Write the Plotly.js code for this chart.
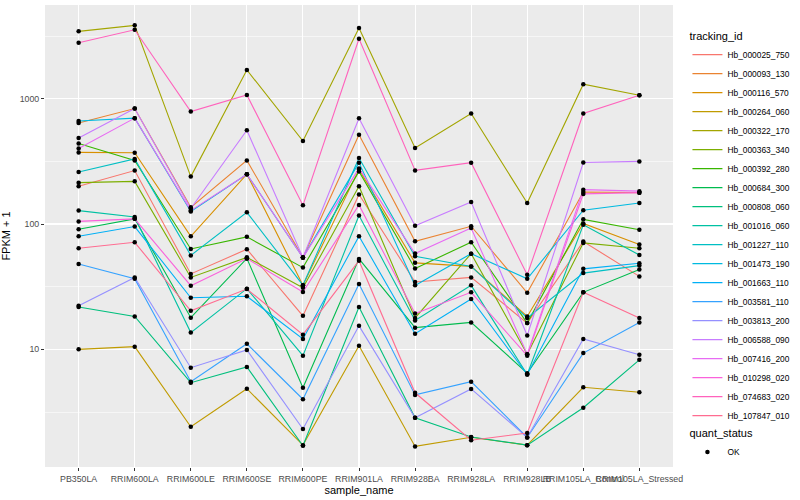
<!DOCTYPE html>
<html><head><meta charset="utf-8">
<script src="https://cdn.plot.ly/plotly-3.0.1.min.js"></script>
<style>body{margin:0;background:#fff}#chart{width:800px;height:500px}</style>
</head><body><div id="chart"></div>
<script>
const categories = ["PB350LA","RRIM600LA","RRIM600LE","RRIM600SE","RRIM600PE","RRIM901LA","RRIM928BA","RRIM928LA","RRIM928LB","RRIM105LA_Control","RRIM105LA_Stressed"];
const trackingIds = ["Hb_000025_750","Hb_000093_130","Hb_000116_570","Hb_000264_060","Hb_000322_170","Hb_000363_340","Hb_000392_280","Hb_000684_300","Hb_000808_060","Hb_001016_060","Hb_001227_110","Hb_001473_190","Hb_001663_110","Hb_003581_110","Hb_003813_200","Hb_006588_090","Hb_007416_200","Hb_010298_020","Hb_074683_020","Hb_107847_010"];
const seriesColors = ["#F8766D","#EA8331","#D89000","#C09B00","#A3A500","#7CAE00","#39B600","#00BB4E","#00BF7D","#00C1A3","#00BFC4","#00BAE0","#00B0F6","#35A2FF","#9590FF","#C77CFF","#E76BF3","#FA62DB","#FF62BC","#FF6C91"];
const quantStatus = ["OK"];

const hb_000025_750 = [200, 267, 40, 62.9, 18.5, 172, 34.5, 37.5, 16.2, 72.5, 38.2];
const hb_000093_130 = [640, 835, 136, 322, 54, 515, 72.8, 96, 28.3, 180, 178];
const hb_000116_570 = [373, 371, 79.8, 250, 32.5, 273, 49, 45.9, 18.3, 101, 68.6];
const hb_000264_060 = [10, 10.5, 2.41, 4.85, 1.72, 10.7, 1.68, 1.99, 1.72, 4.98, 4.55];
const hb_000322_170 = [3450, 3850, 239, 1698, 459, 3664, 404, 762, 147, 1306, 1067];
const hb_000363_340 = [214, 219, 37.5, 54.2, 31, 200, 17.8, 58, 9.15, 70.7, 64];
const hb_000392_280 = [440, 322, 63.3, 79, 44.9, 263, 44.2, 71.5, 16.2, 109, 90];
const hb_000684_300 = [90.8, 110, 17.9, 53.2, 4.94, 52.7, 14.9, 16.4, 6.45, 28.5, 43.3];
const hb_000808_060 = [21.8, 18.3, 5.42, 7.24, 1.7, 21.8, 2.84, 2.0, 1.72, 3.42, 8.24];
const hb_001016_060 = [128, 114, 13.6, 30.5, 8.9, 117, 17, 32.4, 6.3, 98.5, 56.5];
const hb_001227_110 = [260, 331, 56.2, 124, 32.5, 336, 55.2, 45.9, 17.8, 40.6, 46.6];
const hb_001473_190 = [664, 700, 126, 250, 54, 309, 32.4, 58, 36.6, 129, 147];
const hb_001663_110 = [80, 95.5, 25.8, 26.5, 12.1, 80, 13.3, 25.2, 6.3, 43.9, 48.7];
const hb_003581_110 = [48, 36.6, 5.52, 11.07, 4.0, 33.2, 4.33, 5.52, 1.98, 9.33, 16.4];
const hb_003813_200 = [22.3, 37.5, 7.14, 9.9, 2.31, 15.4, 2.84, 4.83, 1.98, 12.1, 9.04];
const hb_006588_090 = [485, 835, 133, 560, 54, 698, 97, 150, 12.9, 310, 316];
const hb_007416_200 = [400, 700, 128, 250, 54, 278, 58.1, 93, 9.15, 188, 183];
const hb_010298_020 = [105, 110, 32.2, 53, 28.7, 142, 19.3, 28.5, 8.9, 174, 178];
const hb_074683_020 = [2795, 3550, 791, 1072, 141, 3008, 268, 309, 39.4, 762, 1067];
const hb_107847_010 = [64, 71.5, 20.3, 30.3, 13.1, 51, 4.5, 1.88, 2.15, 28.5, 17.8];

const seriesValues = [hb_000025_750, hb_000093_130, hb_000116_570, hb_000264_060, hb_000322_170, hb_000363_340, hb_000392_280, hb_000684_300, hb_000808_060, hb_001016_060, hb_001227_110, hb_001473_190, hb_001663_110, hb_003581_110, hb_003813_200, hb_006588_090, hb_007416_200, hb_010298_020, hb_074683_020, hb_107847_010];

const traces = trackingIds.map((id, i) => ({
  type: 'scatter', mode: 'lines', x: categories, y: seriesValues[i], name: id,
  line: {color: seriesColors[i], width: 1.1}, legend: 'legend', hoverinfo: 'skip'
}));
const allX = [], allY = [];
seriesValues.forEach(vals => vals.forEach((v, j) => { allX.push(categories[j]); allY.push(v); }));
traces.push({type: 'scatter', mode: 'markers', x: allX, y: allY, name: quantStatus[0],
  marker: {color: '#000000', size: 4.5}, legend: 'legend2', hoverinfo: 'skip'});

const axisFont = {family: 'Liberation Sans, Arial, sans-serif', size: 8.8, color: '#4D4D4D'};
const layout = {
  width: 800, height: 500,
  margin: {l: 45, r: 117, t: 5, b: 33},
  paper_bgcolor: '#ffffff', plot_bgcolor: '#EBEBEB',
  font: {family: 'Liberation Sans, Arial, sans-serif', size: 9, color: '#000000'},
  showlegend: true,
  xaxis: {type: 'category', categoryorder: 'array', categoryarray: categories, range: [-0.6, 10.6],
    showgrid: true, gridcolor: '#ffffff', gridwidth: 1.1, zeroline: false, showline: false,
    ticks: 'outside', ticklen: 3, tickcolor: '#333333', tickangle: 0, tickfont: axisFont,
    title: {text: 'sample_name', font: {size: 11, color: '#000'}, standoff: 3}},
  yaxis: {type: 'log', range: [0.061, 3.748], tickvals: [10, 100, 1000], ticktext: ['10', '100', '1000'],
    showgrid: true, gridcolor: '#ffffff', gridwidth: 1.1, zeroline: false, showline: false,
    ticks: 'outside', ticklen: 3, tickcolor: '#333333', tickfont: axisFont,
    minor: {tickvals: [3.162, 31.62, 316.2, 3162], showgrid: true, gridcolor: '#ffffff', gridwidth: 0.55, ticks: ''},
    title: {text: 'FPKM + 1', font: {size: 11, color: '#000'}, standoff: 8}},
  legend: {title: {text: 'tracking_id', font: {size: 11}}, x: 1.023, xanchor: 'left', y: 0.955, yanchor: 'top',
    font: {size: 8.4}, bgcolor: 'rgba(0,0,0,0)', itemwidth: 30, tracegroupgap: 0},
  legend2: {title: {text: 'quant_status', font: {size: 11}}, x: 1.023, xanchor: 'left', y: 0.095, yanchor: 'top',
    font: {size: 8.4}, bgcolor: 'rgba(0,0,0,0)', itemwidth: 30}
};
Plotly.newPlot('chart', traces, layout, {staticPlot: true, displayModeBar: false});
</script></body></html>
